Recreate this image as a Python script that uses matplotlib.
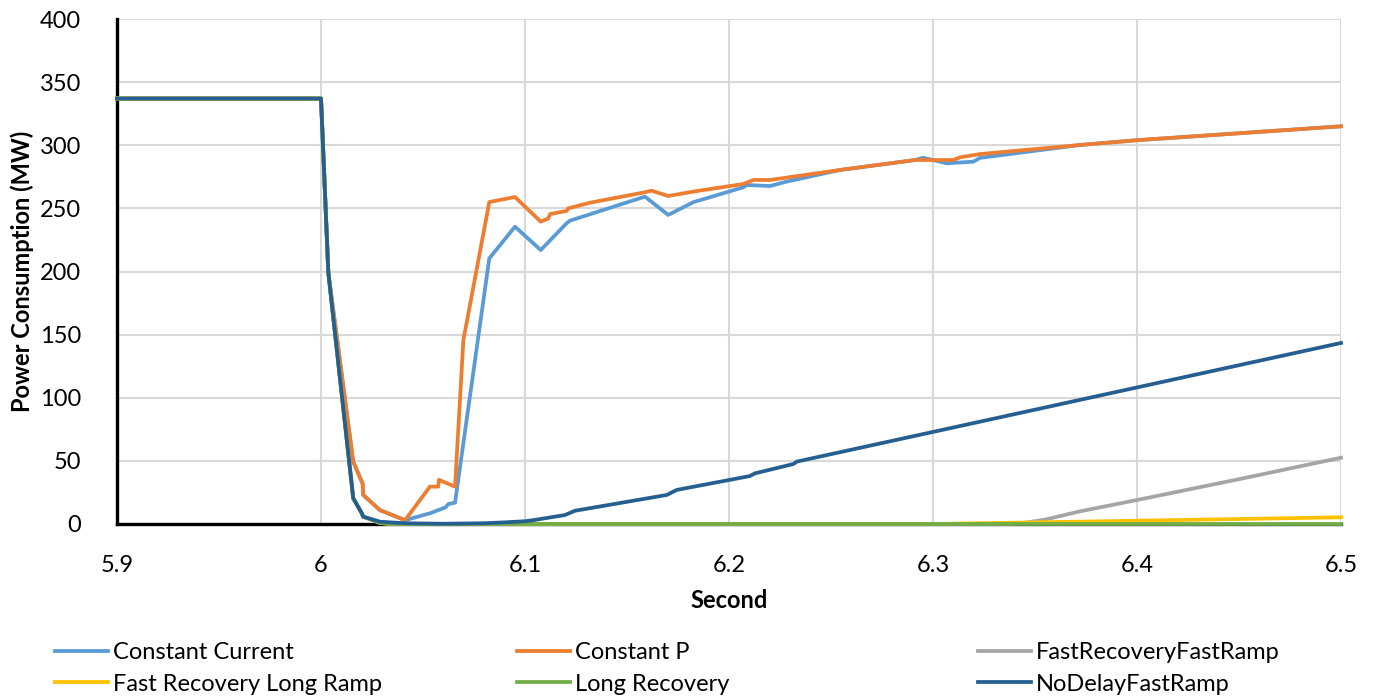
import matplotlib
matplotlib.use("Agg")
import matplotlib.pyplot as plt
from matplotlib.lines import Line2D

plt.rcParams["font.family"] = ["Lato", "DejaVu Sans"]

# ---------------- data ----------------
cc_x = [5.9, 6.0, 6.0036, 6.0158, 6.0204, 6.0207, 6.0289, 6.0412, 6.0534, 6.0611,
        6.0624, 6.0657, 6.0825, 6.0951, 6.1077, 6.1204, 6.1221, 6.1588, 6.1702,
        6.1825, 6.207, 6.2087, 6.2201, 6.2283, 6.2544, 6.2912, 6.2952, 6.3067,
        6.3198, 6.323, 6.372, 6.4, 6.45, 6.5]
cc_y = [337, 337, 199, 49.3, 32, 23, 11, 3, 8.5, 13.2,
        15.8, 16.9, 210.4, 235.5, 217, 238.2, 240.3, 259.3, 244.8,
        254.9, 266.7, 268.5, 267.7, 271.2, 280.4, 288.3, 290.1, 285.7,
        287, 290, 300.2, 304, 309.5, 315]

cp_x = [5.9, 6.0, 6.0036, 6.0158, 6.0204, 6.0207, 6.0289, 6.0412, 6.0534, 6.0575,
        6.0578, 6.0657, 6.0698, 6.0825, 6.0951, 6.1077, 6.1114, 6.1123, 6.1204,
        6.1212, 6.1319, 6.158, 6.1621, 6.1702, 6.1825, 6.207, 6.212, 6.2201,
        6.2544, 6.2912, 6.31, 6.3132, 6.323, 6.372, 6.4, 6.45, 6.5]
cp_y = [337, 337, 199, 49.3, 32, 23, 11, 3, 29.6, 29.6,
        35, 29.6, 145.7, 255, 259, 239.5, 242, 245.5, 248,
        250, 254.5, 262.5, 264, 259.8, 263.3, 269.3, 272.5, 272.5,
        280.4, 288.3, 288.3, 290.4, 293, 300.2, 304, 309.5, 315]

frfr_x = [5.9, 6.0, 6.0036, 6.0158, 6.02, 6.0207, 6.029, 6.035, 6.335, 6.345,
          6.355, 6.372, 6.4, 6.45, 6.5]
frfr_y = [337, 337, 199, 20.4, 8.5, 5.8, 0.8, 0, 0, 1,
          3.5, 10, 19, 35.5, 52.5]

frlr_x = [5.9, 6.0, 6.0036, 6.0158, 6.02, 6.0207, 6.029, 6.035, 6.3, 6.4, 6.5]
frlr_y = [337, 337, 199, 20.4, 8.5, 5.8, 0.8, 0, 0, 2.6, 5.3]

lr_x = [5.9, 6.0, 6.0036, 6.0158, 6.02, 6.0207, 6.029, 6.035, 6.5]
lr_y = [337, 337, 199, 20.4, 8.5, 5.8, 0.8, 0, 0]

nd_x = [5.9, 6.0, 6.0036, 6.0158, 6.02, 6.0207, 6.029, 6.0412, 6.06, 6.08,
        6.09, 6.1, 6.104, 6.11, 6.1196, 6.1245, 6.1695, 6.1744, 6.2103, 6.2127,
        6.2315, 6.2332, 6.5]
nd_y = [337, 337, 199, 20.4, 8.5, 5.8, 1.8, 0.6, 0.2, 0.6,
        1.3, 2.2, 3.0, 4.6, 7.1, 10.5, 23, 27, 38, 40.1,
        47.5, 49.4, 143.4]

series = [
    ("Constant Current", cc_x, cc_y, "#5B9BD5"),
    ("Constant P", cp_x, cp_y, "#ED7D31"),
    ("FastRecoveryFastRamp", frfr_x, frfr_y, "#A5A5A5"),
    ("Fast Recovery Long Ramp", frlr_x, frlr_y, "#FFC000"),
    ("Long Recovery", lr_x, lr_y, "#70AD47"),
    ("NoDelayFastRamp", nd_x, nd_y, "#255E91"),
]

# ---------------- plot ----------------
fig = plt.figure(figsize=(13.73, 6.96), dpi=100)
ax = fig.add_axes([117 / 1373, 1 - 524 / 696, (1341 - 117) / 1373, (524 - 19) / 696])

for name, xs, ys, col in series:
    ax.plot(xs, ys, color=col, lw=2.7, label=name, solid_joinstyle="round",
            zorder=3, clip_on=False)

ax.set_xlim(5.9, 6.5)
ax.set_ylim(0, 400)
ax.set_xticks([5.9, 6.0, 6.1, 6.2, 6.3, 6.4, 6.5])
ax.set_xticklabels(["5.9", "6", "6.1", "6.2", "6.3", "6.4", "6.5"])
ax.set_yticks(range(0, 401, 50))
ax.grid(True, color="#D9D9D9", lw=1.5, zorder=0)
ax.set_axisbelow(True)
ax.tick_params(length=0, labelsize=17)
ax.tick_params(axis="y", pad=26)
ax.tick_params(axis="x", pad=22)

for s in ("top", "right"):
    ax.spines[s].set_visible(False)
for s in ("left", "bottom"):
    ax.spines[s].set_color("black")
    ax.spines[s].set_linewidth(2.4)
    ax.spines[s].set_zorder(2)

ax.set_xlabel("Second", fontsize=17, fontweight="bold", labelpad=10)
ax.set_ylabel("Power Consumption (MW)", fontsize=17, fontweight="bold", labelpad=4)

# legend: three columns, two rows (placed column by column)
handles = {name: Line2D([], [], color=col, lw=2.7) for name, _, _, col in series}
cols = [
    (55, ["Constant Current", "Fast Recovery Long Ramp"]),
    (517, ["Constant P", "Long Recovery"]),
    (978, ["FastRecoveryFastRamp", "NoDelayFastRamp"]),
]
for xpx, names in cols:
    fig.legend([handles[n] for n in names], names, loc="upper left",
               bbox_to_anchor=(xpx / 1373, 1 - 642 / 696), frameon=False,
               fontsize=17, handlelength=2.25, handletextpad=0.2,
               borderpad=0, borderaxespad=0, labelspacing=0.45)

fig.savefig("out.png", dpi=100)
